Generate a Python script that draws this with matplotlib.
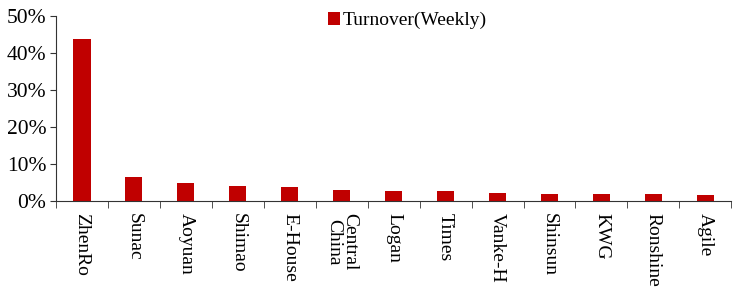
import matplotlib
matplotlib.use("Agg")
import matplotlib.pyplot as plt
import numpy as np
from matplotlib.ticker import FuncFormatter, FixedLocator

categories = ["ZhenRo", "Sunac", "Aoyuan", "Shimao", "E-House", "Central\nChina",
              "Logan", "Times", "Vanke-H", "Shinsun", "KWG", "Ronshine", "Agile"]
turnover = [43.8, 6.5, 4.8, 4.1, 3.85, 2.9, 2.8, 2.75, 2.1, 1.9, 1.85, 1.8, 1.5]

plt.rcParams['font.family'] = ['Liberation Serif', 'DejaVu Serif']
fig = plt.figure(figsize=(7.34, 2.90), dpi=100)
ax = fig.add_axes([0.0763, 0.307, 0.92, 0.638])

x = np.arange(len(categories))
ax.bar(x, turnover, width=0.33, color='#C00000', label='Turnover(Weekly)')
ax.set_xlim(-0.5, len(categories) - 0.5)
ax.set_ylim(0, 50)
ax.set_yticks(np.arange(0, 51, 10))
ax.yaxis.set_major_formatter(FuncFormatter(lambda v, p: f"{int(v)}%"))
ax.set_xticks(x)
ax.set_xticklabels(categories, rotation=270, fontsize=14, va='top', ha='center',
                   linespacing=0.95)
ax.xaxis.set_minor_locator(FixedLocator(np.arange(-0.5, len(categories), 1.0)))
ax.tick_params(axis='x', which='major', length=0, pad=9)
ax.tick_params(axis='x', which='minor', length=5, direction='out', color='#333333')
ax.tick_params(axis='y', labelsize=15.5, length=4, direction='out', color='#333333', pad=3)
for s in ['top', 'right']:
    ax.spines[s].set_visible(False)
ax.spines['left'].set_color('#333333')
ax.spines['bottom'].set_color('#333333')

ax.legend(loc='upper left', bbox_to_anchor=(0.377, 1.115), frameon=False, fontsize=14,
          handlelength=0.6, handleheight=0.6, handletextpad=0.15)

fig.savefig('out.png', dpi=100)
